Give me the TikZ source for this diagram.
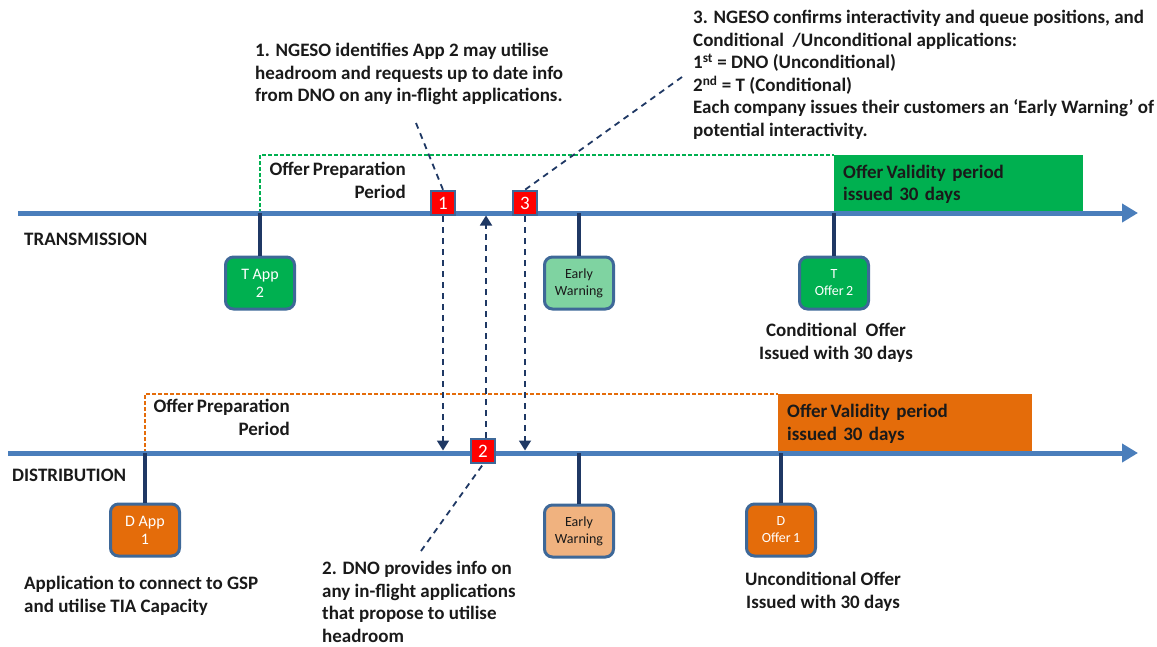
\documentclass[tikz,border=0pt]{standalone}
\usepackage{fontspec}
\setmainfont{Carlito}
\usetikzlibrary{arrows.meta}
\definecolor{axisblue}{HTML}{4A7EBB}
\definecolor{navy}{HTML}{1F3864}
\definecolor{boxborder}{HTML}{3E6898}
\definecolor{tgreen}{HTML}{00B050}
\definecolor{lgreen}{HTML}{7FD3A1}
\definecolor{dorange}{HTML}{E46C0A}
\definecolor{lorange}{HTML}{F0B27F}
\definecolor{mred}{HTML}{FF0000}
\definecolor{txt}{HTML}{1A1A1A}
\begin{document}
\begin{tikzpicture}[x=1pt,y=-1pt,
  axisline/.style={line width=5pt, draw=axisblue, -{Triangle[length=16pt,width=18pt]}},
  stem/.style={line width=4pt, draw=navy},
  evbox/.style={rounded corners=8pt, draw=boxborder, line width=3pt, minimum width=69pt, minimum height=52pt, inner sep=2pt, font=\fontsize{16}{18}\selectfont, align=center, text=white},
  smallev/.style={evbox, font=\fontsize{14}{17}\selectfont},
  marker/.style={fill=mred, draw=boxborder, line width=2.5pt, minimum size=24pt, inner sep=0pt, text=white, font=\fontsize{19}{19}\selectfont},
  lbl/.style={font=\bfseries\fontsize{19}{22.6}\selectfont, inner sep=0pt, text=txt},
  validity/.style={lbl, inner xsep=9pt, anchor=north west, align=left},
  link/.style={draw=navy, line width=1.8pt, dash pattern=on 6pt off 5pt},
  linkarrow/.style={link, -{Triangle[length=10pt,width=12pt]}, shorten >=2.5pt},
  prep/.style={line width=1.5pt, dash pattern=on 4pt off 2pt}
]
\useasboundingbox (0,0) rectangle (1157,646);
\coordinate (ts) at (18,213);
\coordinate (te) at (1138,213);
\coordinate (ds) at (8,453);
\coordinate (de) at (1138,453);

% validity boxes
\node[validity, fill=tgreen, minimum width=249pt, minimum height=58pt, text width=231pt] (tval) at (834,155) {Offer\,Validity\ period\\issued 30 days};
\node[validity, fill=dorange, minimum width=254pt, minimum height=59pt, text width=236pt] (dval) at (778,394) {Offer\,Validity\ period\\issued 30 days};

% event boxes
\node[evbox, fill=tgreen] (tapp) at (260,283) {T App\\2};
\node[smallev, fill=lgreen, text=txt] (tew) at (579,283) {Early\\Warning};
\node[smallev, fill=tgreen] (toff) at (834,283) {T\\Offer\,2};
\node[evbox, fill=dorange] (dapp) at (145,530) {D App\\1};
\node[smallev, fill=lorange, text=txt] (dew) at (579,531) {Early\\Warning};
\node[smallev, fill=dorange] (doff) at (781,530) {D\\Offer\,1};

% preparation periods
\draw[prep, draw=tgreen] (tapp |- ts) -- (tapp |- tval.north) -- (tval.north west);
\draw[prep, draw=dorange] (dapp |- ds) -- (dapp |- dval.north) -- (dval.north west);

% axes
\draw[axisline] (ts) -- (te);
\draw[axisline] (ds) -- (de);

% stems
\draw[stem] (tapp |- ts) -- (tapp.north);
\draw[stem] (tew |- ts) -- (tew.north);
\draw[stem] (toff |- ts) -- (toff.north);
\draw[stem] (dapp |- ds) -- (dapp.north);
\draw[stem] (dew |- ds) -- (dew.north);
\draw[stem] (doff |- ds) -- (doff.north);

% markers
\node[marker] (m1) at (443,203) {1};
\node[marker] (m3) at (525,203) {3};
\node[marker] (m2) at (483,451) {2};

% labels
\node[lbl, anchor=west] (tlab) at (24,239) {TRANSMISSION};
\node[lbl, anchor=west] (dlab) at (12,475) {DISTRIBUTION};
\node[lbl, anchor=north east, align=right] (tprep) at (406,162) {Offer\,Preparation\\Period};
\node[lbl, anchor=north east, align=right] (dprep) at (290,399) {Offer\,Preparation\\Period};
\node[lbl, anchor=north, align=center] (tcond) at (836,323) {Conditional\ \ Offer\\Issued with 30 days};
\node[lbl, anchor=north, align=center] (dunc) at (823,572) {Unconditional Offer\\Issued with 30 days};
\node[lbl, anchor=north west, align=left] (dappl) at (24,576) {Application to connect to GSP\\and utilise TIA Capacity};
\node[lbl, anchor=north west, align=left] (step1) at (255,43) {1. NGESO identifies App 2 may utilise\\headroom and requests up to date info\\from DNO on any in-flight applications.};
\node[lbl, anchor=north west, align=left] (step2) at (322,561) {2. DNO provides info on\\any in-flight applications\\that propose to utilise\\headroom};
\node[lbl, anchor=north west, align=left] (step3) at (693,10) {3. NGESO confirms interactivity and queue positions, and\\Conditional\ \ /Unconditional applications:\\1\textsuperscript{st} = DNO (Unconditional)\\2\textsuperscript{nd} = T (Conditional)\\Each company issues their customers an ‘Early Warning’ of\\potential interactivity.};

% links
\coordinate (c1) at (416,123);
\coordinate (c3) at (682,77);
\coordinate (c2) at (421,551);
\draw[link] (c1) -- (m1.north);
\draw[link] (c3) -- (m3.north);
\draw[link] (c2) -- (m2.south);
\draw[linkarrow] (m1.south) -- (m1 |- ds);
\draw[linkarrow] (m3.south) -- (m3 |- ds);
\draw[linkarrow] ([xshift=3pt]m2.north) -- ([xshift=3pt]m2 |- ts);
\end{tikzpicture}
\end{document}
